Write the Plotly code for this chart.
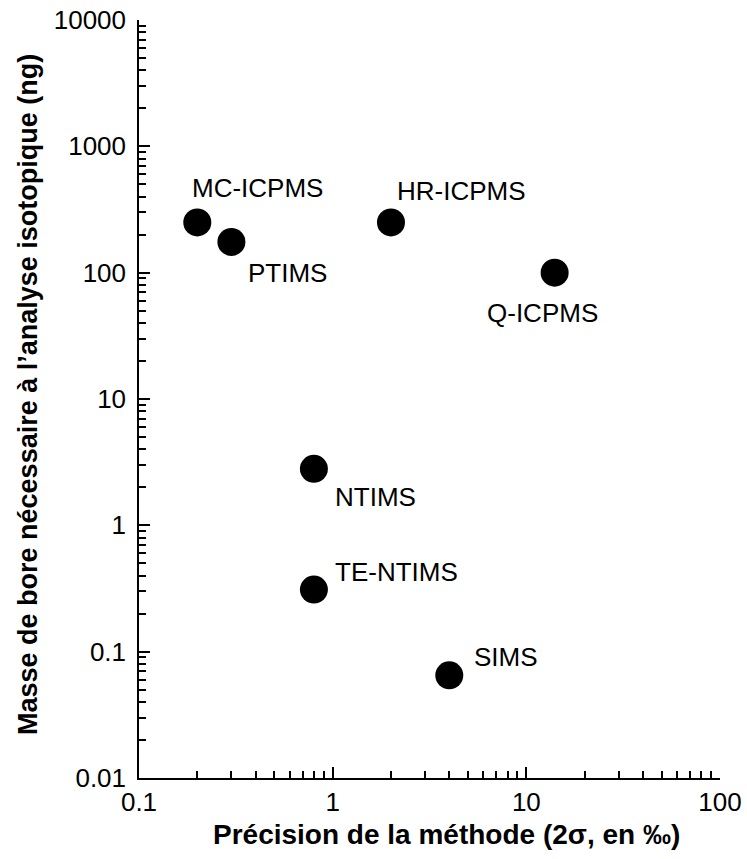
import math
import plotly.graph_objects as go

# Boron isotope methods: precision (2 sigma, permil) vs. boron mass needed (ng)
methods = ['MC-ICPMS', 'PTIMS', 'HR-ICPMS', 'Q-ICPMS', 'NTIMS', 'TE-NTIMS', 'SIMS']
precision = [0.2, 0.3, 2.0, 14.0, 0.8, 0.8, 4.0]
mass_ng = [250, 175, 250, 100, 2.8, 0.31, 0.065]

# label offsets in pixels relative to each marker (left edge of text, text centre)
label_dx = [-7, 15, 4, -70, 19, 19, 23]
label_dy = [34, -31, 31, -40, -28, 18, 18]

font_family = 'Liberation Sans, Arial, Helvetica, sans-serif'

fig = go.Figure()

fig.add_trace(go.Scatter(
    x=precision,
    y=mass_ng,
    mode='markers',
    marker=dict(size=28, color='black'),
    showlegend=False,
    hoverinfo='skip'
))

for name, x, y, dx, dy in zip(methods, precision, mass_ng, label_dx, label_dy):
    fig.add_annotation(
        x=math.log10(x), y=math.log10(y),
        text=name, showarrow=False,
        xanchor='left', yanchor='middle',
        xshift=dx, yshift=dy,
        font=dict(size=26, color='black', family=font_family)
    )

# axis titles as annotations so they sit exactly where the original has them
fig.add_annotation(
    xref='paper', yref='paper', x=0.53, y=0, yshift=-56,
    xanchor='center', yanchor='middle', showarrow=False,
    text='<b>Précision de la méthode (2σ, en ‰)</b>',
    font=dict(size=28, color='black', family=font_family)
)
fig.add_annotation(
    xref='paper', yref='paper', x=0, y=0.5, xshift=-111, yshift=4,
    xanchor='center', yanchor='middle', showarrow=False, textangle=-90,
    text='<b>Masse de bore nécessaire à l’analyse isotopique (ng)</b>',
    font=dict(size=27, color='black', family=font_family)
)

axis_style = dict(
    type='log',
    automargin=False,
    ticklabeloverflow='allow',
    showline=True, linecolor='black', linewidth=1.5,
    ticks='inside', ticklen=11, tickwidth=1.5, tickcolor='black',
    showgrid=False, zeroline=False, mirror=False,
    tickfont=dict(size=26, color='black', family=font_family),
    minor=dict(ticks='inside', ticklen=7, tickwidth=1.5, tickcolor='black',
               dtick='D1', showgrid=False),
)

fig.update_xaxes(
    range=[-1, 2],
    tickvals=[0.1, 1, 10, 100], ticktext=['0.1', '1', '10', '100'],
    ticklabelstandoff=0,
    **axis_style
)
fig.update_yaxes(
    range=[-2, 4],
    tickvals=[0.01, 0.1, 1, 10, 100, 1000, 10000],
    ticktext=['0.01', '0.1', '1', '10', '100', '1000', '10000'],
    ticklabelstandoff=6,
    **axis_style
)

fig.update_layout(
    width=747, height=859,
    margin=dict(l=139, r=27, t=20, b=81),
    plot_bgcolor='white', paper_bgcolor='white',
)

# drop the page's default 8px body margin so the figure fills the window
fig.write_html("out.html", config={'displayModeBar': False},
               post_script="document.body.style.margin='0';")
